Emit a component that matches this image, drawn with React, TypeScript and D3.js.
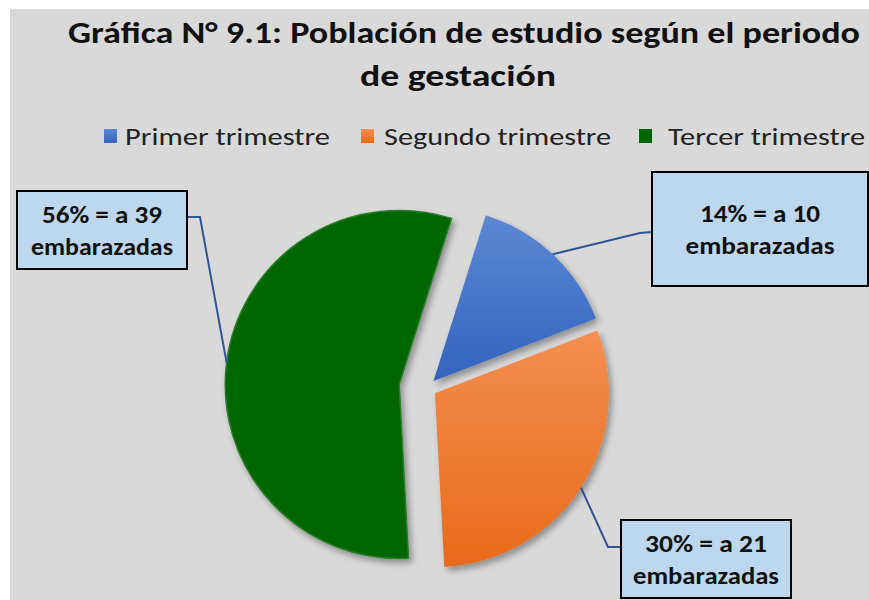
import React from "react";
import * as d3 from "d3";

const categories = ["Primer trimestre", "Segundo trimestre", "Tercer trimestre"];
const values = [10, 21, 39];
const unitLabel = "embarazadas";
const titleLines = ["Gráfica N° 9.1: Población de estudio según el periodo", "de gestación"];

const W = 869;
const H = 600;
const FONT = "Carlito, Calibri, 'Open Sans', 'Noto Sans', sans-serif";

const colorsTop = ["#5c88d3", "#f38f51", "#006600"];
const colorsBottom = ["#3363be", "#e86a1a", "#006600"];
const strokeCols = ["none", "none", "#2a7d2a"];

const center = { x: 427, y: 388 };
const R = 174;
const explode = [9.5, 9.5, 28];
const startDeg = 17.5;

// callout layout: box rect, elbow point, box connection point
const boxes = [
  { x: 652, y: 172, w: 216, h: 114, elbow: [640, 233], end: [652, 232] },
  { x: 621, y: 520, w: 170, h: 78, elbow: [608, 547], end: [621, 547] },
  { x: 17, y: 191, w: 170, h: 78, elbow: [200, 217], end: [187, 217] },
];
const line1Len = [120, 122, 120];
const line2Len = [149, 146, 142];

const legendMarkX = [104, 361, 639];
const legendTextX = [125, 384, 668];
const legendTextLen = [205, 227, 197];

export default function App() {
  const total = d3.sum(values);
  const start = (startDeg * Math.PI) / 180;
  const pie = d3
    .pie<number>()
    .sort(null)
    .startAngle(start)
    .endAngle(start + 2 * Math.PI)(values);
  const arc = d3.arc<d3.PieArcDatum<number>>().innerRadius(0).outerRadius(R);

  const offsets = pie.map((p, i) => {
    const m = (p.startAngle + p.endAngle) / 2;
    return [center.x + explode[i] * Math.sin(m), center.y - explode[i] * Math.cos(m)];
  });

  return (
    <svg
      width={W}
      height={H}
      style={{ position: "absolute", left: 0, top: 0 }}
      fontFamily={FONT}
    >
      <defs>
        {values.map((_, i) => (
          <linearGradient key={i} id={`g${i}`} x1="0" y1="0" x2="0" y2="1">
            <stop offset="0" stopColor={colorsTop[i]} />
            <stop offset="1" stopColor={colorsBottom[i]} />
          </linearGradient>
        ))}
        <filter id="sh" x="-20%" y="-20%" width="140%" height="140%">
          <feDropShadow dx="3" dy="4" stdDeviation="3" floodColor="#000" floodOpacity="0.35" />
        </filter>
      </defs>
      <rect x={0} y={0} width={W} height={H} fill="#ffffff" />
      <rect x={10} y={9} width={W - 10} height={H - 9} fill="#d9d9d9" />

      {/* Title */}
      <text x={464} y={43} textAnchor="middle" fontSize={31} fontWeight="bold" fill="#111"
        textLength={792} lengthAdjust="spacingAndGlyphs">
        {titleLines[0]}
      </text>
      <text x={458} y={86} textAnchor="middle" fontSize={31} fontWeight="bold" fill="#111"
        textLength={196} lengthAdjust="spacingAndGlyphs">
        {titleLines[1]}
      </text>

      {/* Legend */}
      {categories.map((c, i) => (
        <g key={c}>
          <rect x={legendMarkX[i]} y={129} width={13} height={14} fill={`url(#g${i})`} />
          <text x={legendTextX[i]} y={145} fontSize={25} fill="#222"
            textLength={legendTextLen[i]} lengthAdjust="spacingAndGlyphs">
            {c}
          </text>
        </g>
      ))}

      {/* Pie slices */}
      {pie.map((p, i) => (
        <g key={i} transform={`translate(${offsets[i][0]},${offsets[i][1]})`} filter="url(#sh)">
          <path d={arc(p) || ""} fill={`url(#g${i})`} stroke={strokeCols[i]} strokeWidth={1.5} />
        </g>
      ))}

      {/* Leader lines */}
      {pie.map((p, i) => {
        const m = (p.startAngle + p.endAngle) / 2;
        const sx = offsets[i][0] + R * Math.sin(m);
        const sy = offsets[i][1] - R * Math.cos(m);
        const b = boxes[i];
        return (
          <polyline key={i}
            points={`${sx},${sy} ${b.elbow[0]},${b.elbow[1]} ${b.end[0]},${b.end[1]}`}
            fill="none" stroke="#2f5597" strokeWidth={2} />
        );
      })}

      {/* Callout boxes */}
      {pie.map((p, i) => {
        const b = boxes[i];
        const cx = b.x + b.w / 2;
        const cy = b.y + b.h / 2;
        const pct = Math.round((values[i] / total) * 100);
        return (
          <g key={i}>
            <rect x={b.x} y={b.y} width={b.w} height={b.h} fill="#bdd7ee" stroke="#000" strokeWidth={2} />
            <text x={cx} y={cy - 7} textAnchor="middle" fontSize={25} fontWeight="bold" fill="#111"
              textLength={line1Len[i]} lengthAdjust="spacingAndGlyphs">
              {`${pct}% = a ${values[i]}`}
            </text>
            <text x={cx} y={cy + 25} textAnchor="middle" fontSize={25} fontWeight="bold" fill="#111"
              textLength={line2Len[i]} lengthAdjust="spacingAndGlyphs">
              {unitLabel}
            </text>
          </g>
        );
      })}
    </svg>
  );
}
